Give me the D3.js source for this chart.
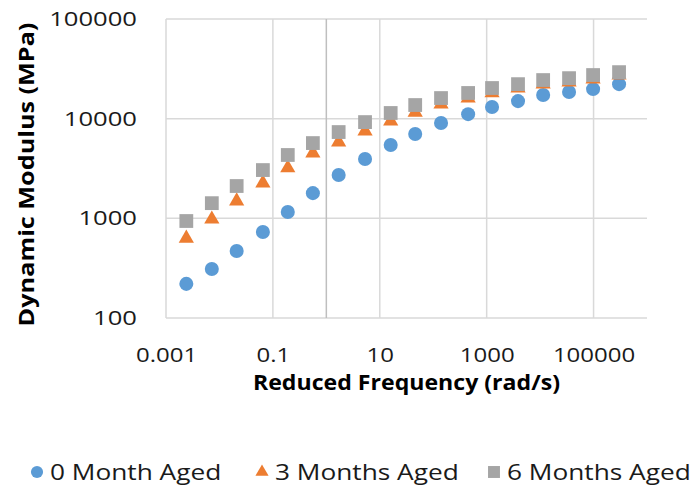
<!DOCTYPE html>
<html>
<head>
<meta charset="utf-8">
<script src="https://cdn.jsdelivr.net/npm/d3@7"></script>
<style>
  html, body { margin: 0; padding: 0; background: #fff; }
  svg text { font-family: "Open Sans", "Noto Sans", sans-serif; fill: #1a1a1a; }
  .tick text { font-size: 20px; }
  .title { font-size: 21px; font-weight: bold; fill: #000; }
  .legend text { font-size: 21px; }
</style>
</head>
<body>
<div id="chart"></div>
<script>
/* Dynamic modulus master curves, log-log scatter, three ageing states. */

// reduced frequency (rad/s), same for all series
const FREQ = [0.0024, 0.0072, 0.021, 0.065, 0.19, 0.56, 1.7, 5.3, 16, 46, 140, 450, 1260, 3860, 11400, 34800, 98000, 300000];
// dynamic modulus (MPa)
const E_0M = [220, 310, 470, 730, 1160, 1790, 2720, 3940, 5440, 7020, 9040, 11100, 13100, 15000, 17300, 18500, 19800, 22200];
const E_3M = [630, 980, 1490, 2260, 3200, 4520, 5820, 7510, 9460, 11600, 14000, 16100, 18100, 20300, 22200, 23300, 25000, 27400];
const E_6M = [940, 1420, 2110, 3050, 4320, 5690, 7340, 9240, 11400, 13700, 16100, 18100, 20300, 22200, 24400, 25500, 27400, 29300];

const SERIES = ["0 Month Aged", "3 Months Aged", "6 Months Aged"];
const X_TICKS = [0.001, 0.1, 10, 1000, 100000];
const Y_TICKS = [100, 1000, 10000, 100000];

const COLORS = ["#5B9BD5", "#ED7D31", "#A5A5A5"];
const SYMBOLS = [d3.symbolCircle, d3.symbolTriangle, d3.symbolSquare];
const SIZES = [155, 100, 190];

const W = 691, H = 489;
const M = {left: 166, right: 44, top: 19, bottom: 171};

// widen a text selection to match the reference's wide face
function stretch(sel, k){
  sel.each(function(){
    const w = this.getComputedTextLength();
    d3.select(this).attr("textLength", w * k).attr("lengthAdjust", "spacingAndGlyphs");
  });
}

const svg = d3.select("#chart").append("svg").attr("width", W).attr("height", H);
svg.append("rect").attr("width", W).attr("height", H).attr("fill", "#fff");

const innerW = W - M.left - M.right;
const innerH = H - M.top - M.bottom;
const plot = svg.append("g").attr("transform", `translate(${M.left},${M.top})`);

const x = d3.scaleLog().domain([0.001, 1e6]).range([0, innerW]);
const y = d3.scaleLog().domain([100, 1e5]).range([innerH, 0]);

// gridlines
plot.append("g").selectAll("line").data(Y_TICKS).join("line")
    .attr("x1", 0).attr("x2", innerW)
    .attr("y1", d => y(d)).attr("y2", d => y(d))
    .attr("stroke", "#d9d9d9").attr("stroke-width", 1.5);
plot.append("g").selectAll("line").data(X_TICKS).join("line")
    .attr("x1", d => x(d)).attr("x2", d => x(d))
    .attr("y1", 0).attr("y2", innerH)
    .attr("stroke", "#d9d9d9").attr("stroke-width", 1.5);
// vertical axis crosses at 1
plot.append("line")
    .attr("x1", x(1)).attr("x2", x(1)).attr("y1", 0).attr("y2", innerH)
    .attr("stroke", "#bfbfbf").attr("stroke-width", 1.5);

// tick labels (labels sit "low", away from the axes)
const fmt = d => String(d);
const xAxis = plot.append("g").attr("transform", `translate(0,${innerH})`)
    .call(d3.axisBottom(x).tickValues(X_TICKS).tickFormat(fmt).tickSize(0).tickPadding(30));
const yAxis = plot.append("g")
    .call(d3.axisLeft(y).tickValues(Y_TICKS).tickFormat(fmt).tickSize(0).tickPadding(29));
[[xAxis, 1.2], [yAxis, 1.28]].forEach(([a, k]) => {
  a.select(".domain").remove();
  a.attr("font-family", null).attr("font-size", null);
  a.selectAll("text").attr("fill", "#1a1a1a");
  stretch(a.selectAll("text"), k);
});

// axis titles
const xt = svg.append("text").attr("class", "title")
    .attr("x", M.left + innerW / 2).attr("y", 390)
    .attr("text-anchor", "middle").text("Reduced Frequency (rad/s)");
stretch(xt, 1.1);
const yt = svg.append("text").attr("class", "title")
    .attr("transform", `translate(34,${M.top + innerH / 2 + 6}) rotate(-90)`)
    .attr("text-anchor", "middle").text("Dynamic Modulus (MPa)");
stretch(yt, 1.2);

// points: one group per series
const sets = [E_0M, E_3M, E_6M];
sets.forEach((vals, i) => {
  plot.append("g").selectAll("path").data(FREQ.map((f, j) => [f, vals[j]])).join("path")
      .attr("transform", d => `translate(${x(d[0])},${y(d[1])})`)
      .attr("d", d3.symbol(SYMBOLS[i], SIZES[i]))
      .attr("fill", COLORS[i]);
});

// legend
const LEG_X = [37, 262, 494];
const leg = svg.append("g").attr("class", "legend");
SERIES.forEach((name, i) => {
  leg.append("path")
      .attr("transform", `translate(${LEG_X[i]},472)`)
      .attr("d", d3.symbol(SYMBOLS[i], SIZES[i] * 0.75))
      .attr("fill", COLORS[i]);
  const t = leg.append("text").attr("x", LEG_X[i] + 13).attr("y", 480).text(name);
  stretch(t, 1.25);
});
</script>
</body>
</html>
